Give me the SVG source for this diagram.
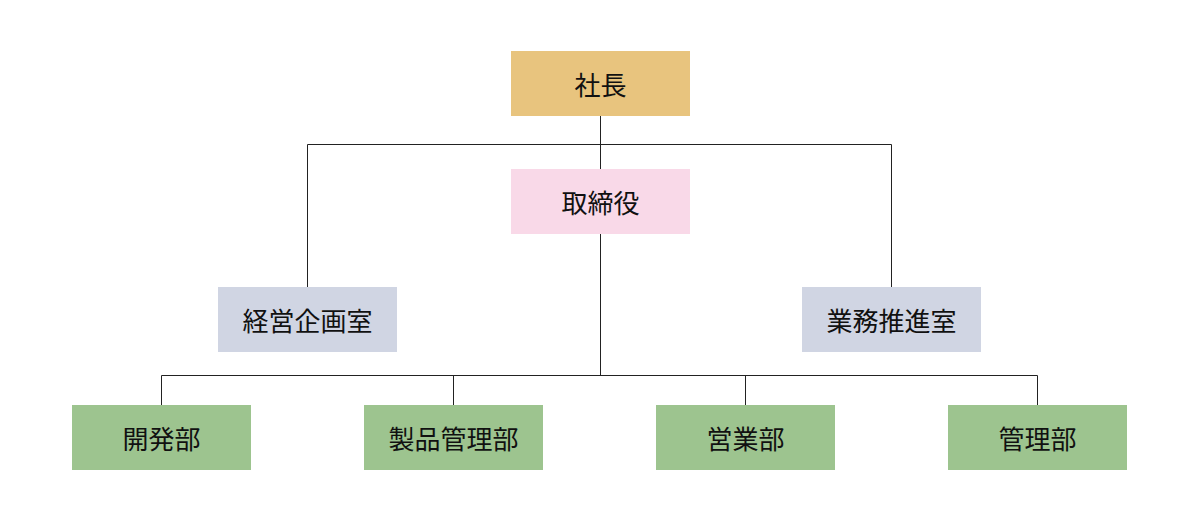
<svg xmlns="http://www.w3.org/2000/svg" width="1201" height="527" viewBox="0 0 1201 527">
<style>
.t{font-family:"Noto Sans CJK JP","Noto Sans",sans-serif;font-size:26px;fill:#111;text-anchor:middle;dominant-baseline:central}
.c{fill:none;stroke:#222;stroke-width:1}
.g{fill:#9dc48f}.b{fill:#d0d5e3}
</style>
<rect width="1201" height="527" fill="#fff"/>
<g id="connectors">
<path class="c" d="M600.5 116V169M307.5 287V144.5H891.5V287M600.5 234V375.5M161.5 405V375.5H1037.5V405M453.5 375.5V405M745.5 375.5V405"/>
</g>
<g id="shacho"><rect x="511" y="51" width="179" height="65" fill="#e8c47e"/><text class="t" x="600.5" y="83.5">社長</text></g>
<g id="torishimariyaku"><rect x="511" y="169" width="179" height="65" fill="#f9d9e8"/><text class="t" x="600.5" y="201.5">取締役</text></g>
<g id="keiei"><rect class="b" x="218" y="287" width="179" height="65"/><text class="t" x="307.5" y="319.5">経営企画室</text></g>
<g id="gyomu"><rect class="b" x="802" y="287" width="179" height="65"/><text class="t" x="891.5" y="319.5">業務推進室</text></g>
<g id="kaihatsu"><rect class="g" x="72" y="405" width="179" height="65"/><text class="t" x="161.5" y="437.5">開発部</text></g>
<g id="seihin"><rect class="g" x="364" y="405" width="179" height="65"/><text class="t" x="453.5" y="437.5">製品管理部</text></g>
<g id="eigyo"><rect class="g" x="656" y="405" width="179" height="65"/><text class="t" x="745.5" y="437.5">営業部</text></g>
<g id="kanri"><rect class="g" x="948" y="405" width="179" height="65"/><text class="t" x="1037.5" y="437.5">管理部</text></g>
</svg>
